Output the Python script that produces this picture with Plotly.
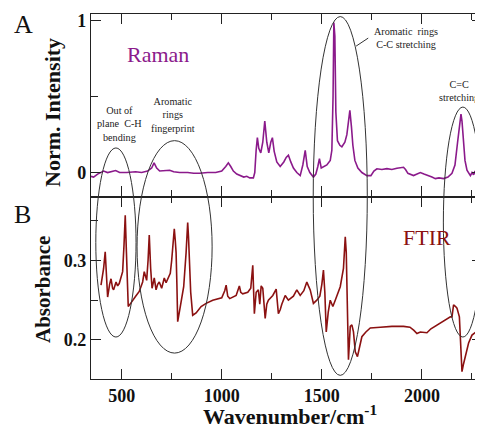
import plotly.graph_objects as go

# ---------------- data ----------------
raman_wn = [347, 360, 380, 395, 410, 430, 450, 470, 490, 525, 570, 600, 630, 650, 662, 675, 690,
            720, 740, 760, 790, 830, 860, 890, 930, 970, 1000, 1020, 1033, 1045, 1058, 1075, 1092,
            1110, 1125, 1140, 1158, 1165, 1172, 1178, 1185, 1195, 1205, 1215, 1225, 1235, 1245,
            1253, 1262, 1275, 1292, 1310, 1322, 1333, 1345, 1358, 1375, 1392, 1405, 1417, 1427,
            1440, 1458, 1470, 1480, 1488, 1497, 1510, 1525, 1542, 1550, 1556, 1560, 1565, 1570,
            1578, 1590, 1600, 1615, 1625, 1633, 1640, 1648, 1655, 1665, 1680, 1700, 1725, 1745,
            1760, 1775, 1800, 1825, 1850, 1875, 1895, 1908, 1918, 1930, 1958, 1975, 1992, 2010,
            2033, 2050, 2067, 2085, 2108, 2130, 2150, 2165, 2178, 2188, 2195, 2200, 2207, 2215,
            2225, 2242, 2250, 2258, 2265, 2275, 2283, 2292]
raman_int = [-0.025, -0.03, -0.01, 0.0, 0.01, 0.0, 0.005, 0.013, 0.0, 0.0, 0.005, 0.0, 0.01, 0.03,
             0.064, 0.03, 0.01, 0.01, 0.015, 0.005, 0.0, 0.0, -0.005, -0.005, 0.0, 0.0, 0.01, 0.04,
             0.064, 0.04, 0.01, -0.01, -0.02, -0.03, -0.025, -0.035, -0.035, 0.0, 0.15, 0.23, 0.16,
             0.13, 0.2, 0.34, 0.2, 0.13, 0.2, 0.23, 0.14, 0.07, 0.04, 0.07, 0.1, 0.114, 0.07, 0.03,
             0.0, -0.02, 0.05, 0.147, 0.04, 0.0, -0.03, -0.01, 0.04, 0.092, 0.03, 0.04, 0.05, 0.08,
             0.147, 0.5, 0.99, 0.9, 0.4, 0.21, 0.18, 0.17, 0.2, 0.25, 0.33, 0.41, 0.3, 0.18, 0.08,
             0.03, 0.0, -0.02, -0.02, 0.01, 0.025, 0.02, 0.026, 0.02, 0.028, 0.03, 0.035, 0.02,
             -0.005, -0.02, -0.01, 0.0, -0.01, -0.02, -0.03, -0.04, -0.035, -0.04, -0.03, -0.005,
             0.05, 0.2, 0.33, 0.385, 0.34, 0.2, 0.08, 0.015, -0.02, 0.0, -0.015, 0.01, -0.05,
             -0.03, -0.05]

ftir_wn = [397, 410, 418, 424, 430, 440, 447, 455, 460, 472, 480, 488, 500, 505, 512, 518, 524,
           533, 545, 555, 570, 588, 600, 605, 613, 620, 625, 632, 638, 645, 652, 663, 672, 680,
           688, 700, 713, 722, 730, 743, 750, 755, 763, 768, 772, 776, 780, 793, 810, 822, 830,
           834, 838, 845, 855, 872, 897, 922, 955, 980, 1000, 1015, 1022, 1030, 1040, 1072, 1082,
           1088, 1095, 1105, 1130, 1145, 1155, 1163, 1172, 1183, 1190, 1197, 1205, 1212, 1217,
           1225, 1233, 1255, 1272, 1283, 1292, 1300, 1317, 1333, 1358, 1375, 1392, 1410, 1425,
           1433, 1442, 1458, 1475, 1490, 1500, 1508, 1515, 1522, 1532, 1542, 1555, 1567, 1592,
           1608, 1617, 1622, 1628, 1633, 1642, 1650, 1658, 1667, 1678, 1690, 1700, 1720, 1742,
           1792, 1850, 1908, 1940, 1960, 1975, 1992, 2010, 2025, 2045, 2058, 2090, 2120, 2142,
           2150, 2158, 2168, 2175, 2187, 2193, 2200, 2208, 2217, 2233, 2250, 2270, 2292, 2300]
ftir_abs = [0.269, 0.29, 0.311, 0.28, 0.254, 0.27, 0.277, 0.265, 0.263, 0.273, 0.268, 0.271, 0.28,
            0.286, 0.32, 0.357, 0.31, 0.242, 0.246, 0.25, 0.255, 0.261, 0.268, 0.273, 0.286,
            0.278, 0.275, 0.3, 0.332, 0.29, 0.265, 0.278, 0.263, 0.27, 0.273, 0.265, 0.278, 0.272,
            0.276, 0.284, 0.3, 0.317, 0.34, 0.325, 0.31, 0.27, 0.223, 0.242, 0.267, 0.31, 0.348,
            0.33, 0.3, 0.26, 0.231, 0.234, 0.242, 0.246, 0.25, 0.252, 0.253, 0.262, 0.269, 0.255,
            0.252, 0.256, 0.262, 0.268, 0.26, 0.258, 0.26, 0.265, 0.294, 0.233, 0.26, 0.263,
            0.245, 0.268, 0.265, 0.24, 0.227, 0.245, 0.25, 0.256, 0.264, 0.233, 0.238, 0.245,
            0.256, 0.25, 0.255, 0.263, 0.256, 0.262, 0.273, 0.268, 0.263, 0.246, 0.25, 0.255,
            0.27, 0.288, 0.26, 0.21, 0.235, 0.25, 0.242, 0.25, 0.267, 0.29, 0.33, 0.31, 0.25,
            0.175, 0.217, 0.219, 0.21, 0.185, 0.179, 0.195, 0.204, 0.21, 0.215, 0.216, 0.217,
            0.217, 0.216, 0.212, 0.208, 0.21, 0.209, 0.209, 0.214, 0.216, 0.22, 0.225, 0.229,
            0.229, 0.244, 0.242, 0.24, 0.229, 0.2, 0.16, 0.17, 0.179, 0.196, 0.206, 0.21, 0.2125,
            0.215]

x_range = [347, 2300]
# highlighted band regions: (wavenumber start, wavenumber end, paper y bottom, paper y top)
bands = [(371, 572, 0.115, 0.633), (577, 952, 0.071, 0.653),
         (1457, 1727, 0.010, 0.993), (2107, 2302, 0.115, 0.745)]
band_labels = ["Out of<br>plane  C-H<br>bending", "Aromatic<br>rings<br>fingerprint",
               "Aromatic \u00a0rings<br>C-C stretching", "C=C<br>stretching"]

FONT = "Liberation Serif, Times New Roman, serif"
RAMAN_C = "#8B1A8B"
FTIR_C = "#8B1111"

fig = go.Figure()
fig.add_trace(go.Scatter(x=raman_wn, y=raman_int, mode="lines", xaxis="x2", yaxis="y2",
                         line=dict(color=RAMAN_C, width=1.6), showlegend=False))
fig.add_trace(go.Scatter(x=ftir_wn, y=ftir_abs, mode="lines", xaxis="x", yaxis="y",
                         line=dict(color=FTIR_C, width=1.6), showlegend=False))

axis_common = dict(showline=True, linecolor="#222", linewidth=1.3, mirror="ticks",
                   ticks="inside", tickcolor="#222", tickwidth=1.3, ticklen=10,
                   showgrid=False, zeroline=False, automargin=False,
                   tickfont=dict(family=FONT, size=18, color="#111"))

# page body adds an 8px offset; the figure is sized so the plot lands where the reference has it
fig.update_layout(
    width=475, height=422,
    margin=dict(l=83, r=1, t=6, b=51),
    plot_bgcolor="white", paper_bgcolor="white",
    xaxis=dict(domain=[0, 1], anchor="y", range=x_range, dtick=500, tick0=0,
               minor=dict(dtick=250, ticklen=6, tickcolor="#222", ticks="inside"),
               tickprefix="<b>", ticksuffix="</b>", **axis_common),
    xaxis2=dict(domain=[0, 1], anchor="y2", range=x_range, dtick=500, tick0=0,
                matches="x", showticklabels=False,
                minor=dict(dtick=250, ticklen=6, tickcolor="#222", ticks="inside"),
                **axis_common),
    yaxis=dict(domain=[0, 0.5], anchor="x", range=[0.1507, 0.3807], dtick=0.1, tick0=0,
               tickformat=".1f", tickprefix="<b>", ticksuffix="</b>",
               minor=dict(dtick=0.05, ticklen=7, tickcolor="#222", ticks="inside"),
               **axis_common),
    yaxis2=dict(domain=[0.5, 1], anchor="x2", range=[-0.158, 1.046], dtick=1, tick0=0,
                tickprefix="<b>", ticksuffix="</b>",
                minor=dict(dtick=0.5, ticklen=7, tickcolor="#222", ticks="inside"),
                **axis_common),
)

span = x_range[1] - x_range[0]
for (w0, w1, y0, y1) in bands:
    fig.add_shape(type="circle", xref="paper", yref="paper",
                  x0=(w0 - x_range[0]) / span, x1=(w1 - x_range[0]) / span, y0=y0, y1=y1,
                  line=dict(color="#333", width=1))

# leader line from the C-C label to its ellipse
fig.add_shape(type="line", xref="paper", yref="paper", x0=0.678, y0=0.912, x1=0.709, y1=0.934,
              line=dict(color="#333", width=1))


def px_x(px):
    return (px - 91) / 391


def px_y(py):
    return (379 - py) / 365


label_pos = [(119, 124), (173, 115), (406, 38), (459, 91)]
for (px, py), txt in zip(label_pos, band_labels):
    fig.add_annotation(xref="paper", yref="paper", x=px_x(px), y=px_y(py),
                       text=txt, showarrow=False, xanchor="center", yanchor="middle",
                       font=dict(family=FONT, size=10.2, color="#222"))

# axis titles
fig.add_annotation(xref="paper", yref="paper", x=px_x(52), y=px_y(113), textangle=-90,
                   text="<b>Norm. Intensity</b>", showarrow=False, xanchor="center",
                   yanchor="middle", font=dict(family=FONT, size=22, color="#111"))
fig.add_annotation(xref="paper", yref="paper", x=px_x(43), y=px_y(290), textangle=-90,
                   text="<b>Absorbance</b>", showarrow=False, xanchor="center",
                   yanchor="middle", font=dict(family=FONT, size=21, color="#111"))
fig.add_annotation(xref="paper", yref="paper", x=px_x(290), y=px_y(399),
                   text="<b>Wavenumber/cm<sup>-1</sup></b>", showarrow=False, xanchor="center",
                   yanchor="top", font=dict(family=FONT, size=22, color="#111"))

fig.add_annotation(xref="paper", yref="paper", x=px_x(158), y=px_y(55),
                   text="Raman", showarrow=False, xanchor="center", yanchor="middle",
                   font=dict(family=FONT, size=22, color=RAMAN_C))
fig.add_annotation(xref="paper", yref="paper", x=px_x(427), y=px_y(237),
                   text="FTIR", showarrow=False, xanchor="center", yanchor="middle",
                   font=dict(family=FONT, size=22, color=FTIR_C))
fig.add_annotation(xref="paper", yref="paper", x=px_x(23), y=px_y(25),
                   text="A", showarrow=False, xanchor="center", yanchor="middle",
                   font=dict(family=FONT, size=26, color="#111"))
fig.add_annotation(xref="paper", yref="paper", x=px_x(22), y=px_y(214),
                   text="B", showarrow=False, xanchor="center", yanchor="middle",
                   font=dict(family=FONT, size=26, color="#111"))

fig.write_html("out.html")
